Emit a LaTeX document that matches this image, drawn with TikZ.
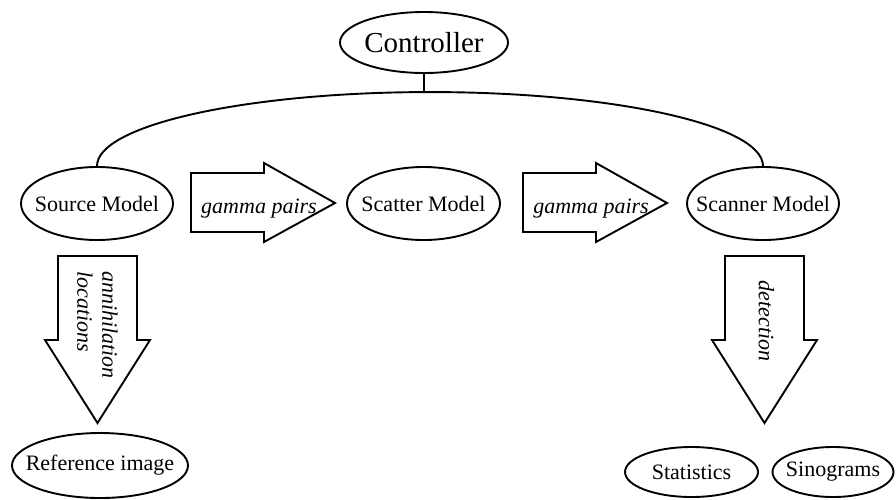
\documentclass[tikz,border=0pt]{standalone}
\usepackage{fontspec}
\setmainfont{Liberation Serif}
\usetikzlibrary{shapes.geometric}
\tikzset{
  every picture/.style={x=1pt,y=-1pt},
  lw/.style={line width=1.9pt},
  oval/.style={ellipse,draw,lw,inner sep=0pt,
    label={[inner sep=0pt,font=\fontsize{22}{25}\selectfont]center:#1}},
  fat/.style={draw,lw,line join=miter},
  lab/.style={inner sep=0pt,font=\fontsize{22}{25}\selectfont\itshape}
}
\newcommand\fatright[1]{%
  \draw[fat] ({#1},173) -- ({#1+73},173) -- ({#1+73},163) -- ({#1+144},203) -- ({#1+73},242) -- ({#1+73},232) -- ({#1},232) -- cycle;}
\newcommand\fatdown[1]{%
  \draw[fat] ({#1-39.5},256) -- ({#1+39.5},256) -- ({#1+39.5},340) -- ({#1+52.5},340) -- ({#1},423) -- ({#1-52.5},340) -- ({#1-39.5},340) -- cycle;}
\begin{document}
\begin{tikzpicture}
\useasboundingbox (0,0) rectangle (896,499);
\node[ellipse,draw,lw,inner sep=0pt,minimum width=168pt,minimum height=61pt,
  label={[inner sep=0pt,font=\fontsize{29}{33}\selectfont]center:Controller}] (ctrl) at (424,42.5) {};
\node[oval=Source Model,minimum width=152pt,minimum height=73pt] (src) at (97,203.5) {};
\node[oval=Scatter Model,minimum width=153pt,minimum height=73pt] (scat) at (423.5,203.5) {};
\node[oval=Scanner Model,minimum width=152pt,minimum height=73pt] (scan) at (763,203.5) {};
\node[oval=Reference image,minimum width=176pt,minimum height=65pt] (ref) at (100,465.5) {};
\node[oval=Statistics,minimum width=133pt,minimum height=50pt] (stat) at (691.5,472) {};
\node[oval=Sinograms,minimum width=121pt,minimum height=50pt] (sino) at (833,472) {};
\coordinate (ctop) at (424,93);
\draw[lw] (ctrl.south) -- (ctop);
\draw[lw] (src.north) arc[start angle=180,end angle=0,x radius=333pt,y radius=74pt];
\fatright{191}
\fatright{523}
\fatdown{97.5}
\fatdown{764.5}
\node[lab,anchor=base] (g1) at (259,213) {gamma pairs};
\node[lab,anchor=base] (g2) at (591,213) {gamma pairs};
\node[lab,rotate=-90,align=left] (ann) at (97.5,325) {annihilation\\locations};
\node[lab,rotate=-90] (det) at (766.5,321) {detection};
\end{tikzpicture}
\end{document}
